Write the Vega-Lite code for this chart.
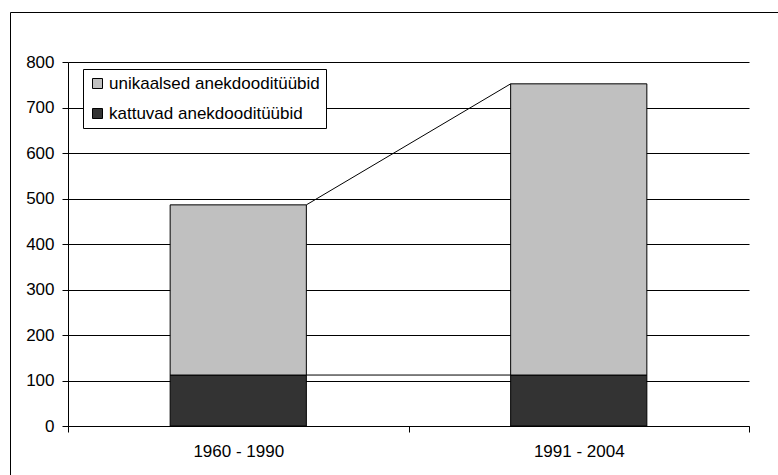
{
  "$schema": "https://vega.github.io/schema/vega-lite/v6.json",
  "autosize": "none",
  "padding": {"left": 10, "top": 12, "right": 0, "bottom": 0},
  "width": 768,
  "height": 463,
  "background": "white",
  "config": {
    "font": "Liberation Sans",
    "view": {"stroke": "#000000", "strokeWidth": 1},
    "axis": {
      "domainColor": "#000000",
      "tickColor": "#000000",
      "labelColor": "#000000",
      "labelFontSize": 17,
      "labelFont": "Liberation Sans",
      "tickSize": 6,
      "domainWidth": 1,
      "tickWidth": 1
    }
  },
  "data": {
    "values": [
      {"period": "1960 - 1990", "type": "kattuvad anekdooditüübid", "count": 112},
      {"period": "1960 - 1990", "type": "unikaalsed anekdooditüübid", "count": 374},
      {"period": "1991 - 2004", "type": "kattuvad anekdooditüübid", "count": 112},
      {"period": "1991 - 2004", "type": "unikaalsed anekdooditüübid", "count": 640}
    ]
  },
  "layer": [
    {
      "mark": {"type": "bar", "stroke": "#000000", "strokeWidth": 1, "width": {"band": 0.4}},
      "encoding": {
        "x": {
          "field": "period",
          "type": "nominal",
          "title": null,
          "scale": {"type": "band", "range": [58, 739], "paddingInner": 0, "paddingOuter": 0},
          "axis": {"orient": "bottom", "offset": -49, "tickBand": "extent", "labelAngle": 0, "labelPadding": 11, "grid": false}
        },
        "y": {
          "field": "count",
          "type": "quantitative",
          "stack": "zero",
          "title": null,
          "scale": {"domain": [0, 800], "range": [414, 50], "nice": false, "zero": false},
          "axis": {"orient": "left", "offset": -58, "values": [0, 100, 200, 300, 400, 500, 600, 700, 800], "grid": true, "gridColor": "#000000", "gridWidth": 1, "labelPadding": 8}
        },
        "color": {
          "field": "type",
          "type": "nominal",
          "scale": {"domain": ["unikaalsed anekdooditüübid", "kattuvad anekdooditüübid"], "range": ["#C0C0C0", "#333333"]},
          "legend": {
            "title": null,
            "orient": "none",
            "legendX": 73,
            "legendY": 57,
            "strokeColor": "#000000",
            "fillColor": "#ffffff",
            "padding": 6,
            "symbolType": "square",
            "symbolSize": 100,
            "symbolStrokeColor": "#000000",
            "symbolStrokeWidth": 1,
            "labelFontSize": 17,
            "labelFont": "Liberation Sans",
            "labelColor": "#000000",
            "labelLimit": 0,
            "rowPadding": 12,
            "labelOffset": 3
          }
        },
        "order": {"field": "type", "sort": "ascending"}
      }
    },
    {
      "transform": [
        {"window": [{"op": "sum", "field": "count", "as": "cum"}], "groupby": ["period"], "sort": [{"field": "type", "order": "ascending"}], "frame": [null, 0]},
        {"window": [{"op": "lead", "field": "cum", "as": "next_cum"}, {"op": "lead", "field": "period", "as": "next_period"}], "groupby": ["type"], "sort": [{"field": "period", "order": "ascending"}]},
        {"filter": "datum.next_period != null"}
      ],
      "mark": {"type": "rule", "color": "#000000", "strokeWidth": 1},
      "encoding": {
        "x": {
          "field": "period",
          "type": "nominal",
          "bandPosition": 0.7,
          "title": null,
          "axis": {"orient": "bottom", "offset": -49, "tickBand": "extent", "labelAngle": 0, "labelPadding": 11, "grid": false}
        },
        "x2": {"field": "next_period", "bandPosition": 0.3},
        "y": {
          "field": "cum",
          "type": "quantitative",
          "title": null,
          "axis": {"orient": "left", "offset": -58, "values": [0, 100, 200, 300, 400, 500, 600, 700, 800], "grid": true, "gridColor": "#000000", "gridWidth": 1, "labelPadding": 8}
        },
        "y2": {"field": "next_cum"}
      }
    }
  ]
}
